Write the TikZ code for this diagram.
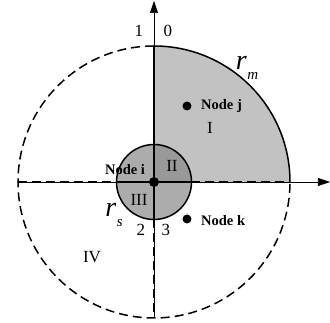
\documentclass[tikz,border=0pt]{standalone}
\usepackage{fontspec}
\setmainfont{Liberation Serif}
\usetikzlibrary{arrows.meta}
\newcommand{\rlab}[1]{\textit{r}\kern0.5pt\raisebox{-0.35em}{\fontsize{15}{15}\selectfont\textit{#1}}}
\begin{document}
\begin{tikzpicture}[x=1pt,y=1pt,
  thickline/.style={line width=1.5pt},
  dashline/.style={line width=1.5pt,dash pattern=on 9pt off 5pt},
  axisline/.style={line width=0.6pt,-{Triangle[length=12pt,width=8pt]}},
  nodelabel/.style={font=\bfseries\fontsize{14.5}{14.5}\selectfont,anchor=west,inner sep=0pt},
  numlabel/.style={font=\fontsize{17}{17}\selectfont,inner sep=0pt},
  rlabel/.style={font=\fontsize{28}{28}\selectfont,inner sep=0pt},
  dot/.style={circle,fill=black,inner sep=0pt,minimum size=9pt}]
\useasboundingbox (-154,-141) rectangle (176,182);
\def\R{136}
\def\r{37.5}
% quadrant I
\fill[gray!48] (0,0) -- (\R,0) arc (0:90:\R) -- cycle;
% dashed big circle (other quadrants)
\draw[dashline] (0,\R) arc (90:360:\R);
\draw[thickline] (\R,0) arc (0:90:\R);
% small circle
\fill[gray!65] (0,0) circle (\r);
\fill[gray!80] (0,0) -- (\r,0) arc (0:90:\r) -- cycle;
\draw[thickline] (0,0) circle (\r);
% axes
\coordinate (xs) at (-\R,0);
\coordinate (xe) at (176,0);
\coordinate (ys) at (0,-\R);
\coordinate (ye) at (0,181);
\draw[axisline] (xs) -- (xe);
\draw[axisline] (ys) -- (ye);
% boundary lines
\draw[dashline] (-\R,0) -- (-\r,0);
\draw[dashline] (\r,0) -- (\R,0);
\draw[dashline] (0,-\r) -- (0,-\R);
\draw[thickline] (0,-\r) -- (0,\R);
\draw[thickline] (-\r,0) -- (\r,0);
% nodes
\node[dot,minimum size=10pt] (ni) at (0,0) {};
\node[dot] (nj) at (33,76) {};
\node[dot] (nk) at (33,-37) {};
\node[nodelabel] (lj) at (47,76) {Node j};
\node[nodelabel] (lk) at (47,-39) {Node k};
\node[nodelabel,anchor=center] (li) at (-29,12) {Node i};
% labels
\node[numlabel] (n1) at (-15,151) {1};
\node[numlabel] (n0) at (14,151) {0};
\node[numlabel] (n2) at (-13,-48) {2};
\node[numlabel] (n3) at (12,-48) {3};
\node[numlabel] (q1) at (56,54) {I};
\node[numlabel] (q2) at (18,16) {II};
\node[numlabel] (q3) at (-15,-18) {III};
\node[numlabel] (q4) at (-62,-75) {IV};
\node[rlabel] (rm) at (93,114) {\rlab{m}};
\node[rlabel] (rs) at (-40,-33) {\rlab{s}};
\end{tikzpicture}
\end{document}
